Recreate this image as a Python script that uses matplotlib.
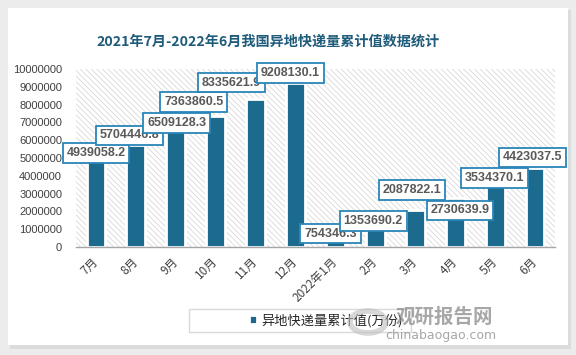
import matplotlib
matplotlib.use("Agg")
import matplotlib.pyplot as plt
from matplotlib.patches import Rectangle, Ellipse
import numpy as np

plt.rcParams['font.family'] = ['Noto Sans CJK SC', 'DejaVu Sans']
plt.rcParams['hatch.linewidth'] = 0.5
plt.rcParams['hatch.color'] = '#d2d2d2'

# ---- data ----
categories = ['7月', '8月', '9月', '10月', '11月', '12月',
              '2022年1月', '2月', '3月', '4月', '5月', '6月']
values = [4939058.2, 5704446.8, 6509128.3, 7363860.5, 8335621.9, 9208130.1,
          754346.3, 1353690.2, 2087822.1, 2730639.9, 3534370.1, 4423037.5]
value_labels = ['4939058.2', '5704446.8', '6509128.3', '7363860.5', '8335621.9', '9208130.1',
                '754346.3', '1353690.2', '2087822.1', '2730639.9', '3534370.1', '4423037.5']
y_ticks = [0, 1000000, 2000000, 3000000, 4000000, 5000000,
           6000000, 7000000, 8000000, 9000000, 10000000]
title = '2021年7月-2022年6月我国异地快递量累计值数据统计'
series_name = '异地快递量累计值(万份)'

# label placement offsets (pixels) relative to bar tops
label_dx = [0, -6, 1, -22, -24, -5, -5, -2, -3, 5, -1, -3]
label_dy = [6, 10, 8, 14, 16, 10, 0, 2, 20, -12, 6, 11]

W, H = 576, 355
fig = plt.figure(figsize=(W / 100, H / 100), dpi=100)
fig.patch.set_facecolor('#ececec')

# background axes holding the white card
bg = fig.add_axes([0, 0, 1, 1], zorder=-5)
bg.set_axis_off()
bg.set_xlim(0, W)
bg.set_ylim(H, 0)
bg.add_patch(Rectangle((10, 10), 561, 339, facecolor='#dcdcdc', edgecolor='none'))
bg.add_patch(Rectangle((8, 8), 560, 337, facecolor='white', edgecolor='none'))
# legend frame
bg.add_patch(Rectangle((189, 309), 222, 23, facecolor='white', edgecolor='#d9d9d9',
                       linewidth=1))

ax = fig.add_axes([76 / W, 1 - 247 / H, 479 / W, 178 / H], zorder=1)
ax.patch.set_visible(False)

x = np.arange(len(categories))
ax.set_xlim(-0.5, len(categories) - 0.5)
ax.set_ylim(0, 10000000)

# hatched plot area
ax.add_patch(Rectangle((0, 0), 1, 1, transform=ax.transAxes, facecolor='white',
                       edgecolor='#d2d2d2', hatch='\\\\\\\\\\\\', linewidth=0, zorder=0))

bars = ax.bar(x, values, width=0.47, color='#1c6a8e', edgecolor='white',
              linewidth=2, zorder=2)

for i, (xi, v, lab) in enumerate(zip(x, values, value_labels)):
    ax.annotate(lab, xy=(xi, v), xytext=(label_dx[i], label_dy[i]),
                textcoords='offset pixels', ha='center', va='center',
                fontsize=9, fontweight='bold', color='#595959',
                family=['Liberation Sans', 'DejaVu Sans'],
                bbox=dict(boxstyle='square,pad=0.3', facecolor='white',
                          edgecolor='#2a86b8', linewidth=1.3),
                zorder=5 + i)

ax.set_yticks(y_ticks)
ax.set_yticklabels([str(t) for t in y_ticks], family=['Liberation Sans', 'DejaVu Sans'],
                   fontsize=8, color='#404040')
ax.tick_params(axis='y', length=0, pad=10)
ax.set_xticks(x)
ax.set_xticklabels(categories, rotation=45, ha='right', va='center',
                   rotation_mode='anchor', fontsize=8.5, color='#404040')
ax.tick_params(axis='x', length=0, pad=9)

for s in ['top', 'right', 'left']:
    ax.spines[s].set_visible(False)
ax.spines['bottom'].set_color('#a6a6a6')
ax.spines['bottom'].set_linewidth(1)
ax.spines['bottom'].set_zorder(3)

fig.text(268 / W, 1 - 42 / H, title, ha='center', va='center', fontsize=10.2,
         fontweight='bold', color='#1f5b7a')

leg = ax.legend([bars], [series_name], loc='center',
                bbox_to_anchor=(326 / W, 1 - 320.5 / H),
                bbox_transform=fig.transFigure, fontsize=9.5, frameon=False,
                handlelength=0.6, handleheight=0.6,
                handletextpad=0.3, borderpad=0.35, borderaxespad=0)
for t in leg.get_texts():
    t.set_color('#262626')

# watermark
wm = fig.add_axes([0, 0, 1, 1], zorder=5)
wm.set_axis_off()
wm.set_xlim(0, W)
wm.set_ylim(H, 0)
wm.add_patch(Ellipse((368, 322), 36, 22, facecolor='none',
                     edgecolor='#bdbdbd', linewidth=4, alpha=0.6))
wm.text(444, 317, '观研报告网', ha='center', va='center', fontsize=14,
        fontweight='bold', color='#8a8a8a', alpha=0.75)
wm.text(441, 336, 'chinabaogao.com', ha='center', va='center', fontsize=9,
        color='#8a8a8a', alpha=0.75, family=['DejaVu Sans'])

fig.savefig('out.png', dpi=100, facecolor=fig.get_facecolor())
